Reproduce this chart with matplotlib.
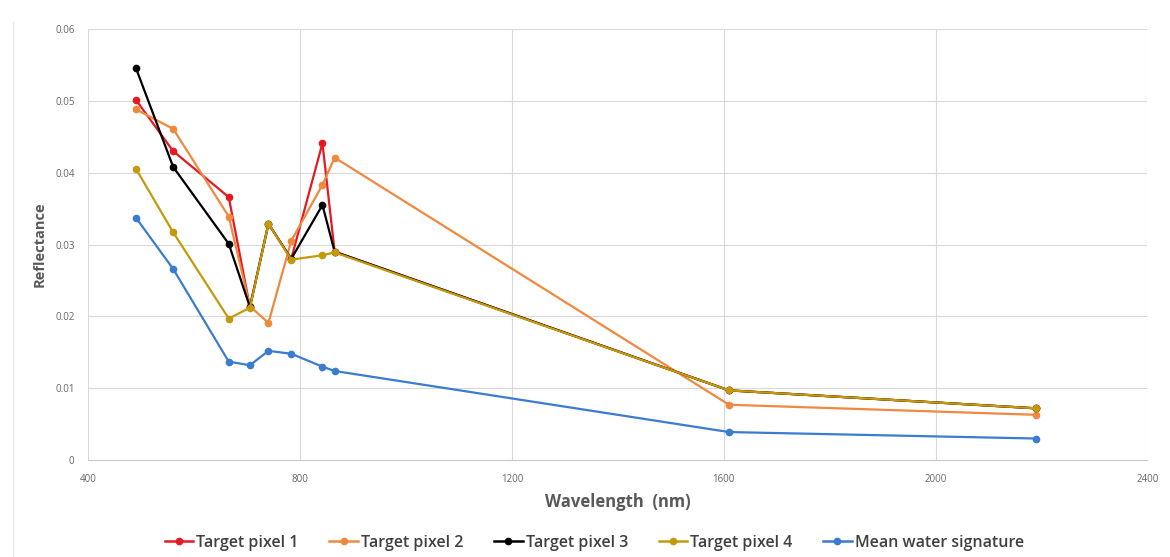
import numpy as np
import matplotlib
matplotlib.use("Agg")
import matplotlib.pyplot as plt
from matplotlib.lines import Line2D

wavelength = [490, 560, 665, 705, 740, 783, 842, 865, 1610, 2190]

target_1 = [0.0501, 0.0430, 0.0366, 0.0213, 0.0329, 0.0280, 0.0441, 0.0290, 0.0097, 0.0072]
target_2 = [0.0488, 0.0461, 0.0339, 0.0214, 0.0191, 0.0305, 0.0383, 0.0421, 0.0077, 0.0063]
target_3 = [0.0545, 0.0408, 0.0301, 0.0213, 0.0329, 0.0280, 0.0355, 0.0290, 0.0097, 0.0072]
target_4 = [0.0405, 0.0317, 0.0197, 0.0212, 0.0329, 0.0279, 0.0285, 0.0289, 0.0097, 0.0072]
water = [0.0337, 0.0266, 0.0137, 0.0132, 0.0152, 0.0148, 0.0130, 0.0124, 0.0039, 0.0030]

series = [
    ("Target pixel 1", target_1, "#E5191F"),
    ("Target pixel 2", target_2, "#F0883E"),
    ("Target pixel 3", target_3, "#000000"),
    ("Target pixel 4", target_4, "#C49A0C"),
    ("Mean water signature", water, "#3A7CCF"),
]

plt.rcParams['font.family'] = ['Open Sans', 'DejaVu Sans']

fig = plt.figure(figsize=(11.7, 5.57), dpi=100)
ax = fig.add_axes([0.0756, 0.174, 0.905, 0.774])

for name, vals, col in series:
    ax.plot(wavelength, vals, color=col, lw=1.6, marker='o', ms=4.5, label=name)

ax.set_xlim(400, 2400)
ax.set_ylim(0, 0.06)
ax.set_xticks([400, 800, 1200, 1600, 2000, 2400])
ax.set_yticks([0, 0.01, 0.02, 0.03, 0.04, 0.05, 0.06])
ax.set_yticklabels(["0", "0.01", "0.02", "0.03", "0.04", "0.05", "0.06"])
ax.grid(True, color="#d9d9d9", lw=0.8)
ax.set_axisbelow(True)
for s in ["top", "right", "left"]:
    ax.spines[s].set_visible(False)
ax.spines["bottom"].set_color("#c8c8c8")
ax.tick_params(length=0, labelsize=7, colors="#666666", pad=10)

ax.set_xlabel("Wavelength  (nm)", fontsize=12, fontweight='bold', color="#595959", labelpad=6)
ax.set_ylabel("Reflectance", fontsize=10.5, fontweight='bold', color="#595959", labelpad=6)

handles = [Line2D([0], [0], color=c, lw=1.8, marker='o', ms=4.5) for _, _, c in series]
fig.legend(handles, [n for n, _, _ in series], loc='center', bbox_to_anchor=(0.508, 0.025),
           ncol=5, frameon=False, prop={'size': 11.5, 'weight': 'semibold'},
           handlelength=1.8, columnspacing=1.9, handletextpad=0.2, labelcolor="#404040")

fig.add_artist(Line2D([0.011, 0.011], [0.0, 0.96], transform=fig.transFigure,
                      color="#e6e6e6", lw=0.8))

fig.savefig("out.png", dpi=100)
